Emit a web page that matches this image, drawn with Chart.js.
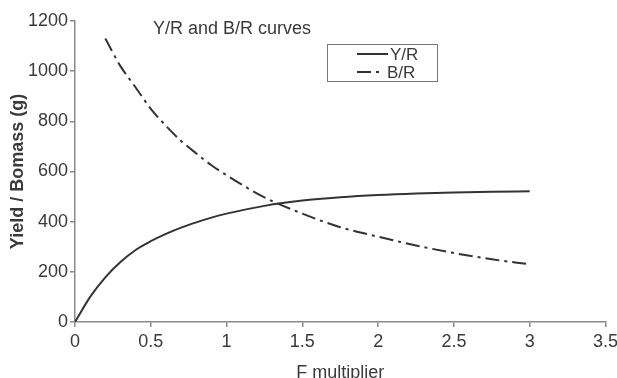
<!DOCTYPE html>
<html>
<head>
<meta charset="utf-8">
<script src="https://cdn.jsdelivr.net/npm/chart.js@4"></script>
<style>
  html, body { margin: 0; padding: 0; background: #fff; overflow: hidden; }
  #wrap { width: 622px; height: 392px; }
</style>
</head>
<body>
<div id="wrap"><canvas id="yrbr" width="622" height="392"></canvas></div>
<script>
/* ── Datos ─────────────────────────────────── */
const F_YR   = [0, 0.1, 0.2, 0.3, 0.4, 0.5, 0.6, 0.7, 0.8, 0.9, 1.0, 1.25, 1.5, 1.75, 2, 2.25, 2.5, 2.75, 3];
const YR     = [0, 100, 178, 239, 287, 322, 351, 376, 397, 416, 432, 463, 484, 497, 506, 512, 516, 519, 521];
const F_BR   = [0.2, 0.3, 0.4, 0.5, 0.6, 0.7, 0.8, 0.9, 1.0, 1.25, 1.5, 1.75, 2, 2.25, 2.5, 2.75, 3];
const BR     = [1130, 1020, 935, 850, 782, 722, 672, 625, 585, 497, 432, 378, 340, 305, 275, 250, 230];
const X_TICKS = [0, 0.5, 1, 1.5, 2, 2.5, 3, 3.5];
const Y_TICKS = [0, 200, 400, 600, 800, 1000, 1200];

const FONT = "'Liberation Sans', Arial, sans-serif";
const INK  = '#3a3a3a';
const AXIS = '#8a8a8a';

Chart.defaults.font.family = FONT;
Chart.defaults.color = INK;

const pts = (xs, ys) => xs.map((x, i) => ({ x: x, y: ys[i] }));

/* ── Título y leyenda dentro del área de gráfica ── */
const insidePlugin = {
  id: 'inside',
  afterDraw(chart) {
    const { ctx } = chart;
    ctx.save();
    ctx.fillStyle = INK;
    ctx.font = '18px ' + FONT;
    ctx.textBaseline = 'middle';
    ctx.textAlign = 'left';
    ctx.fillText('Y/R and B/R curves', 153, 29);

    // caja de leyenda
    ctx.strokeStyle = '#777';
    ctx.lineWidth = 1;
    ctx.strokeRect(327.5, 44.5, 110, 37);

    chart.data.datasets.forEach((ds, i) => {
      const y = 54 + i * 18;
      ctx.strokeStyle = ds.borderColor;
      ctx.lineWidth = ds.borderWidth;
      ctx.setLineDash(ds.borderDash || []);
      ctx.beginPath();
      ctx.moveTo(357, y);
      ctx.lineTo(i === 0 ? 388 : 384, y);
      ctx.stroke();
      ctx.setLineDash([]);
      ctx.fillStyle = INK;
      ctx.font = '17px ' + FONT;
      ctx.fillText(ds.label, i === 0 ? 390 : 387, y + 1);
    });
    ctx.restore();
  }
};

new Chart(document.getElementById('yrbr'), {
  type: 'line',
  data: {
    datasets: [
      {
        label: 'Y/R',
        data: pts(F_YR, YR),
        borderColor: '#333',
        borderWidth: 2,
        pointRadius: 0,
        cubicInterpolationMode: 'monotone',
        fill: false
      },
      {
        label: 'B/R',
        data: pts(F_BR, BR),
        borderColor: '#333',
        borderWidth: 2,
        borderDash: [14, 5, 3, 5],
        pointRadius: 0,
        cubicInterpolationMode: 'monotone',
        fill: false
      }
    ]
  },
  options: {
    responsive: false,
    animation: false,
    layout: { padding: { top: 21, right: 0, bottom: 0, left: 0 } },
    plugins: {
      legend: { display: false },
      tooltip: { enabled: false }
    },
    scales: {
      x: {
        type: 'linear',
        min: 0, max: 3.5,
        afterBuildTicks: s => { s.ticks = X_TICKS.map(v => ({ value: v })); },
        afterFit: s => { s.height = 70; },
        grid: { drawOnChartArea: false, drawTicks: true, tickLength: 5, color: AXIS, lineWidth: 1.5 },
        border: { color: AXIS, width: 1.5 },
        ticks: { color: INK, font: { size: 18 }, padding: 4, callback: v => String(v) },
        title: { display: true, text: 'F multiplier', color: INK, font: { size: 18 }, padding: { top: 0, bottom: 8 } }
      },
      y: {
        min: 0, max: 1200,
        afterBuildTicks: s => { s.ticks = Y_TICKS.map(v => ({ value: v })); },
        afterFit: s => { s.width = 75; },
        grid: { drawOnChartArea: false, drawTicks: true, tickLength: 5, color: AXIS, lineWidth: 1.5 },
        border: { color: AXIS, width: 1.5 },
        ticks: { color: INK, font: { size: 18 }, padding: 2, callback: v => String(v) },
        title: { display: true, text: 'Yield / Bomass (g)', color: INK, font: { size: 18, weight: 'bold' }, padding: { top: 7, bottom: 0 } }
      }
    }
  },
  plugins: [insidePlugin]
});
</script>
</body>
</html>
